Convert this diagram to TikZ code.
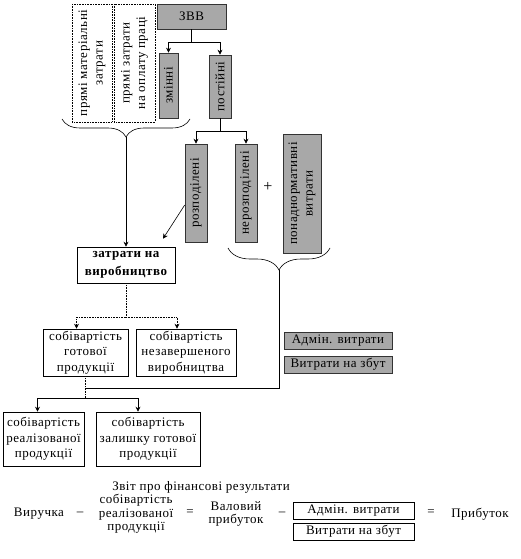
\documentclass[tikz,border=0pt]{standalone}
\usepackage{fontspec}
\setmainfont{Liberation Serif}[LetterSpace=4]
\definecolor{boxgray}{RGB}{168, 168, 168}
\usetikzlibrary{arrows.meta, positioning, decorations.pathreplacing, calc}

\begin{document}
\begin{tikzpicture}[x=1pt, y=-1pt, line width=0.6pt,
    font=\fontsize{13}{15.5}\selectfont,
    arr/.style={-{Stealth[length=5pt, width=5pt]}},
    grey/.style={draw=black!80, fill=boxgray, inner sep=1pt, align=center},
    vgrey/.style={grey, rotate=90},
    plain/.style={draw, fill=white, inner sep=1pt, align=center},
    vplain/.style={plain, densely dotted, rotate=90}]
  \useasboundingbox (0,0) rectangle (520,559);
  % Direct costs and overheads
  \node[vplain, minimum width=118pt, minimum height=40pt] (mat) at (92,63) {прямі матеріальні\\затрати};
  \node[vplain, minimum width=118pt, minimum height=41pt] (prac) at (134.5,63) {прямі затрати\\на оплату праці};
  \node[grey, minimum width=69pt, minimum height=25pt] (zvv) at (191.5,16.5) {ЗВВ};
  \node[vgrey, minimum width=65pt, minimum height=19pt] (zm) at (168.5,85.5) {змінні};
  \node[vgrey, minimum width=63pt, minimum height=22pt] (post) at (220,86.5) {постійні};
  \node[vgrey, minimum width=98pt, minimum height=22pt] (rozp) at (196,193) {розподілені};
  \node[vgrey, minimum width=98pt, minimum height=22pt] (nerozp) at (246,193) {нерозподілені};
  \node[font=\fontsize{16}{16}\selectfont] (plus) at (268,187) {+};
  \node[vgrey, minimum width=119pt, minimum height=38pt] (ponad) at (302,193.5) {понаднормативні\\витрати};
  % Cost of production
  \node[plain, font=\fontsize{13}{18}\selectfont\bfseries, minimum width=98pt, minimum height=36pt] (zatr) at (126,265) {затрати на\\виробництво};
  \node[plain, minimum width=85pt, minimum height=47pt] (gotova) at (85.5,352.5) {собівартість\\готової\\продукції};
  \node[plain, minimum width=100pt, minimum height=47pt] (nezav) at (186,352.5) {собівартість\\незавершеного\\виробництва};
  \node[plain, minimum width=81pt, minimum height=54pt] (real) at (43.5,439) {собівартість\\реалізованої\\продукції};
  \node[plain, minimum width=104pt, minimum height=54pt] (zalyš) at (148,439) {собівартість\\залишку готової\\продукції};
  \node[grey, minimum width=108pt, minimum height=17pt] (adm) at (338,340.5) {Адмін. витрати};
  \node[grey, minimum width=108pt, minimum height=17pt] (zbut) at (338,364.5) {Витрати на збут};
  % Braces
  \draw[decorate, decoration={brace, mirror, amplitude=18pt}] (62,119) -- (190,119);
  \coordinate (b1) at (126,137);
  \draw[decorate, decoration={brace, mirror, amplitude=22pt}] (228,248) -- (330,248);
  \coordinate (b2) at (279,270);
  % Connectors
  \draw[arr] (zvv.south) -- ++(0,13) -| (zm.east);
  \draw[arr] (zvv.south) -- ++(0,13) -| (post.east);
  \draw[arr] (post.west) -- ++(0,13) -| (rozp.east);
  \draw[arr] (post.west) -- ++(0,13) -| (nerozp.east);
  \draw[arr] (b1) -- (zatr.north -| b1);
  \draw[arr] ([yshift=-12pt]rozp.north) -- ([xshift=37pt, yshift=8pt]zatr.north);
  \draw[densely dotted] (zatr.south) -- ++(0,34) coordinate (s1);
  \draw[arr, densely dotted] (s1) -| ([xshift=-9pt]gotova.north);
  \draw[arr, densely dotted] (s1) -| ([xshift=-9pt]nezav.north);
  \draw (b2) |- ([yshift=-12pt]gotova.south);
  \draw[densely dotted] (gotova.south) -- ++(0,22) coordinate (s2);
  \draw[arr] (s2) -| ([xshift=-6pt]real.north);
  \draw[arr] (s2) -| ([xshift=-10pt]zalyš.north);
  % Financial results statement
  \node (title) at (201,487) {Звіт про фінансові результати};
  \node (vyr) at (39,514) {Виручка};
  \node (min1) at (80,514) {–};
  \node[align=center, font=\fontsize{13}{13.5}\selectfont] (sob) at (136,514) {собівартість\\реалізованої\\продукції};
  \node (eq1) at (190,513) {=};
  \node[align=center, font=\fontsize{13}{13.5}\selectfont] (val) at (236,514) {Валовий\\прибуток};
  \node (min2) at (282,514) {–};
  \node[plain, minimum width=121pt, minimum height=17pt] (adm2) at (353.5,510.5) {Адмін. витрати};
  \node[plain, minimum width=121pt, minimum height=17pt] (zbut2) at (353.5,531.5) {Витрати на збут};
  \node (eq2) at (431,513) {=};
  \node (prib) at (480,514) {Прибуток};
\end{tikzpicture}
\end{document}
